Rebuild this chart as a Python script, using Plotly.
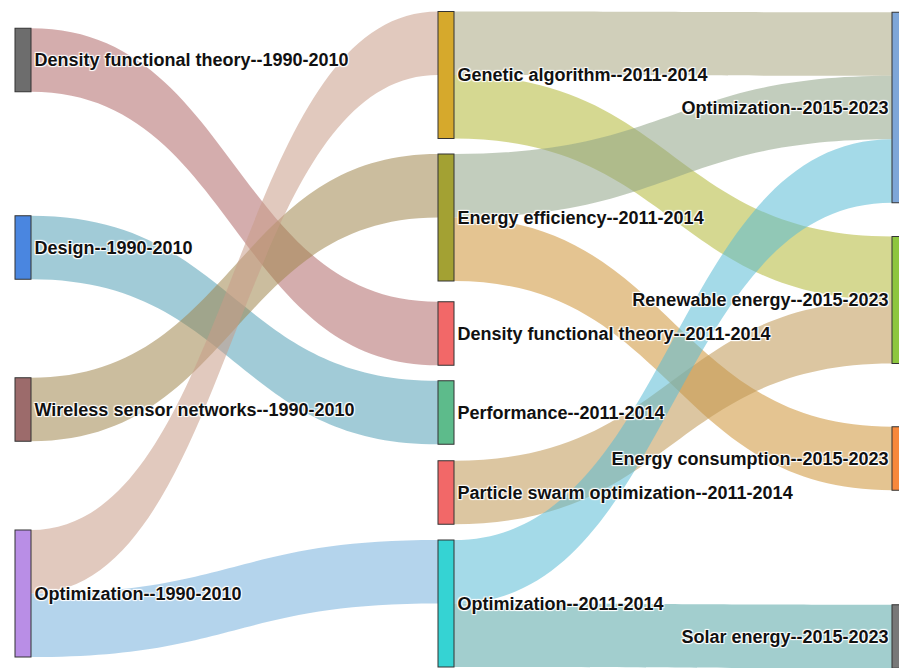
import plotly.graph_objects as go

# ── Nodes: keyword--period ─────────────────────────────────────────────────
labels = [
    "Density functional theory--1990-2010",
    "Design--1990-2010",
    "Wireless sensor networks--1990-2010",
    "Optimization--1990-2010",
    "Genetic algorithm--2011-2014",
    "Energy efficiency--2011-2014",
    "Density functional theory--2011-2014",
    "Performance--2011-2014",
    "Particle swarm optimization--2011-2014",
    "Optimization--2011-2014",
    "Optimization--2015-2023",
    "Renewable energy--2015-2023",
    "Energy consumption--2015-2023",
    "Solar energy--2015-2023",
]

# ── Links ──────────────────────────────────────────────────────────────────
sources = [0, 1, 2, 3, 3, 4, 4, 5, 5, 8, 9, 9]
targets = [6, 7, 5, 4, 9, 10, 11, 10, 12, 11, 10, 13]
values = [1, 1, 1, 1, 1, 1, 1, 1, 1, 1, 1, 1]

# ── Colours ────────────────────────────────────────────────────────────────
node_colors = [
    "#6d6d6d", "#4a86e0", "#9c6b6b", "#b98ee6",
    "#d6a92c", "#a3a133", "#f26868", "#5dbb8b", "#f26868", "#35d3d3",
    "#7ea6d8", "#8dc63f", "#f7883b", "#787878",
]

W, H = 907, 668
THICK = 16
# column centres and node centres in pixels (layout only);
# plotly shifts forced nodes by thickness/2, so subtract it here
COL_X = [23, 446, 900]
node_col = [0, 0, 0, 0, 1, 1, 1, 1, 1, 1, 2, 2, 2, 2]
node_cy = [60, 247.5, 409.5, 593.5,
           75, 217.5, 333.5, 412.5, 492.5, 603.5,
           107.5, 300, 458.5, 636.5]


def _rgb(h):
    h = h.lstrip("#")
    return [int(h[i:i + 2], 16) for i in (0, 2, 4)]


def _mix(a, b, alpha=0.55):
    ca, cb = _rgb(a), _rgb(b)
    m = [round((x + y) / 2) for x, y in zip(ca, cb)]
    return f"rgba({m[0]},{m[1]},{m[2]},{alpha})"


link_colors = [_mix(node_colors[s], node_colors[t]) for s, t in zip(sources, targets)]

fig = go.Figure(go.Sankey(
    arrangement="fixed",
    node=dict(
        label=labels,
        color=node_colors,
        x=[(COL_X[c] - THICK / 2) / W for c in node_col],
        y=[(cy - THICK / 2) / H for cy in node_cy],
        pad=40,
        thickness=THICK,
        align="left",
        line=dict(color="#333333", width=1),
    ),
    link=dict(source=sources, target=targets, value=values, color=link_colors),
    textfont=dict(family="Arial", size=18, color="#111111", weight="bold"),
))

fig.update_layout(
    width=W, height=H,
    margin=dict(l=0, r=0, t=0, b=0),
    paper_bgcolor="white",
    plot_bgcolor="white",
)

fig.write_html("out.html")
